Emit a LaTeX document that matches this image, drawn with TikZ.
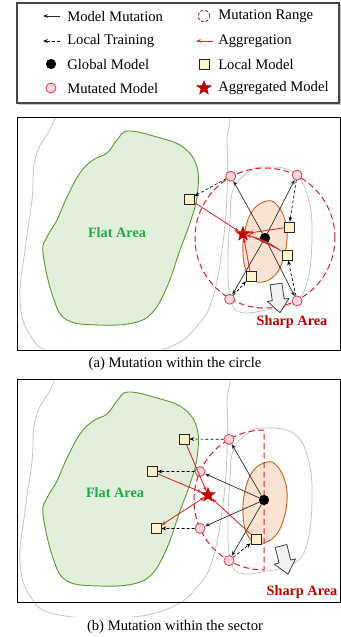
\documentclass[tikz,border=0pt]{standalone}
\usepackage{fontspec}
\setmainfont{Liberation Serif}
\usetikzlibrary{arrows.meta,shapes.geometric,calc}

\definecolor{flatfill}{HTML}{E2EFDA}
\definecolor{flatedge}{HTML}{5E9A3A}
\definecolor{flattext}{HTML}{1DAA4A}
\definecolor{sharpfill}{HTML}{FBE3D3}
\definecolor{sharpedge}{HTML}{C8641E}
\definecolor{sharptext}{HTML}{C00000}
\definecolor{contour}{HTML}{C4C4C4}
\definecolor{rangered}{HTML}{D0202A}
\definecolor{aggred}{HTML}{D42A2A}
\definecolor{starred}{HTML}{C00000}
\definecolor{mutfill}{HTML}{F8D6DC}
\definecolor{mutedge}{HTML}{E0404F}
\definecolor{localfill}{HTML}{FFF2CC}

% the loss landscape: two gray contours, the flat (green) and the sharp (orange) basin
\newcommand\drawterrain{%
  \draw[contour, line width=0.6pt] plot[smooth cycle, tension=0.7] coordinates {
    (72,106) (150,103) (222,109) (227,143) (227,193) (223,243) (213,297)
    (198,325) (170,347) (120,357) (55,353) (30,335) (20,300) (25,250)
    (32,200) (35,160) (48,133)};
  \draw[contour, line width=0.6pt] plot[smooth cycle, tension=0.7] coordinates {
    (263,167) (293,172) (308,197) (312,237) (307,283) (293,303) (267,310)
    (240,312) (230,297) (228,260) (230,220) (233,190) (247,173)};
  \draw[flatedge, fill=flatfill, line width=0.7pt] plot[smooth cycle, tension=0.65] coordinates {
    (128,131) (157,137) (183,147) (197,167) (197,197) (190,223) (180,250)
    (167,287) (152,313) (133,323) (100,325) (67,320) (53,297) (43,253)
    (47,237) (57,220) (67,197) (80,173) (93,160) (107,153) (117,140)};
  \draw[sharpedge, fill=sharpfill, line width=0.7pt] plot[smooth cycle, tension=0.7] coordinates {
    (267,201) (277,205) (285,220) (287,240) (282,263) (272,278) (257,282)
    (247,273) (243,253) (245,230) (253,210)};
}

\begin{document}
\begin{tikzpicture}[x=0.75pt, y=-0.75pt,
  tip/.style={-{Stealth[length=3.6pt,width=2.8pt]}},
  globalm/.style={circle, fill=black, draw=black, minimum size=7.2pt, inner sep=0pt},
  mutm/.style={circle, fill=mutfill, draw=mutedge, line width=0.6pt, minimum size=7.5pt, inner sep=0pt},
  localm/.style={rectangle, fill=localfill, draw=black!85, line width=0.6pt, minimum size=7.5pt, inner sep=0pt},
  aggm/.style={star, star points=5, star point ratio=2.4, fill=starred, draw=starred, minimum size=11pt, inner sep=0pt},
  mutarrow/.style={tip, draw=black!85, line width=0.5pt},
  trainarrow/.style={tip, draw=black, line width=0.5pt, dash pattern=on 2.2pt off 1.6pt},
  aggarrow/.style={tip, draw=aggred, fill=aggred, line width=0.6pt},
  rangeline/.style={draw=rangered, line width=0.75pt, dash pattern=on 4.5pt off 2.6pt},
  panel/.style={draw=black, line width=0.75pt},
  blockarrow/.style={fill=gray!10, draw=black!75, line width=0.6pt, line join=round},
  legendtext/.style={anchor=west, inner sep=0pt, font=\fontsize{11}{13}\selectfont},
  caption/.style={inner sep=0pt, font=\fontsize{11}{13}\selectfont},
  flatlabel/.style={inner sep=0pt, text=flattext, font=\fontsize{10.7}{12}\selectfont\bfseries},
  sharplabel/.style={inner sep=0pt, text=sharptext, font=\fontsize{10.7}{12}\selectfont\bfseries}
]
\useasboundingbox (0,0) rectangle (341,637);

% ---------------- legend ----------------
\fill[gray!45] (18.5,4.5) rectangle (340.5,104.5);
\draw[fill=white, draw=gray!55!black, line width=0.9pt] (17,3) rectangle (339,103);

\coordinate (lgA1) at (60,16);  \coordinate (lgA2) at (43,16);
\draw[mutarrow] (lgA1) -- (lgA2);
\node[legendtext] (lgt1) at (67,16) {Model Mutation};

\coordinate (lgB1) at (60,41);  \coordinate (lgB2) at (43,41);
\draw[trainarrow] (lgB1) -- (lgB2);
\node[legendtext] (lgt2) at (67,41) {Local Training};

\node[globalm] (lgC) at (51,64) {};
\node[legendtext] (lgt3) at (67,64) {Global Model};

\node[mutm] (lgD) at (51,88) {};
\node[legendtext] (lgt4) at (67,88) {Mutated Model};

\node[circle, draw=rangered, line width=0.7pt, dash pattern=on 2.2pt off 1.4pt,
      minimum size=8.6pt, inner sep=0pt] (lgE) at (204,16) {};
\node[legendtext] (lgt5) at (218,16) {Mutation Range};

\coordinate (lgF1) at (213,41); \coordinate (lgF2) at (196,41);
\draw[aggarrow] (lgF1) -- (lgF2);
\node[legendtext] (lgt6) at (218,41) {Aggregation};

\node[localm] (lgG) at (204,64) {};
\node[legendtext] (lgt7) at (218,64) {Local Model};

\node[aggm] (lgH) at (204,88) {};
\node[legendtext] (lgt8) at (218,88) {Aggregated Model};

% ---------------- panel (a): mutation within the circle ----------------
\begin{scope}
  \clip (17,117.5) rectangle (340,350);
  \drawterrain
\end{scope}
\draw[panel] (17,117.5) rectangle (340,350);

\coordinate (ca) at (265,238);
\draw[rangeline] (ca) circle[radius=52.5pt];

\node[globalm] (Ga) at (ca) {};
\node[mutm] (Ma1) at ($(ca)+(119:53pt)$) {};
\node[mutm] (Ma2) at ($(ca)+(63:53pt)$) {};
\node[mutm] (Ma3) at ($(ca)+(240:53pt)$) {};
\node[mutm] (Ma4) at ($(ca)+(297:53pt)$) {};
\node[localm] (La1) at (189,199) {};
\node[localm] (La2) at (289,227) {};
\node[localm] (La3) at (287,255) {};
\node[localm] (La4) at (251,276) {};
\node[aggm] (Sa) at (243,234) {};

\foreach \m in {Ma1,Ma2,Ma3,Ma4} \draw[mutarrow] (Ga) -- (\m);
\draw[trainarrow] (Ma1) -- (La1);
\draw[trainarrow] (Ma2) -- (La2);
\draw[trainarrow] (Ma4) -- (La3);
\draw[trainarrow] (Ma3) -- (La4);
\draw[aggarrow] (La1) -- (Sa);
\draw[aggarrow] (La2) -- (Sa);
\draw[aggarrow] (La3) to[bend right=10] (Sa);
\draw[aggarrow] (La4) -- (Sa);

\draw[blockarrow, shift={(276,284)}, rotate=8]
  (-6,0) -- (6,0) -- (6,16) -- (11,16) -- (0,29) -- (-11,16) -- (-6,16) -- cycle;

\node[flatlabel] (fa) at (117,233) {Flat Area};
\node[sharplabel] (sa) at (292,322) {Sharp Area};
\node[caption] (capa) at (175,364) {(a) Mutation within the circle};

% ---------------- panel (b): mutation within the sector ----------------
\begin{scope}
  \clip (17,379) rectangle (340,616);
  \begin{scope}[shift={(0,261)}]
    \drawterrain
  \end{scope}
\end{scope}
\draw[panel] (17,379) rectangle (340,602);

\coordinate (cb) at (264,500);
\draw[rangeline] ($(cb)+(90:52.5pt)$) arc[start angle=90, end angle=270, radius=52.5pt] -- cycle;

\node[globalm] (Gb) at (cb) {};
\node[mutm] (Mb1) at ($(cb)+(120:52.5pt)$) {};
\node[mutm] (Mb2) at ($(cb)+(156:52.5pt)$) {};
\node[mutm] (Mb3) at ($(cb)+(204:52.5pt)$) {};
\node[mutm] (Mb4) at ($(cb)+(240:52.5pt)$) {};
\node[localm] (Lb1) at (184,439) {};
\node[localm] (Lb2) at (152,471.5) {};
\node[localm] (Lb3) at (156,528.5) {};
\node[localm] (Lb4) at (256,539) {};
\node[aggm] (Sb) at (208,495) {};

\foreach \m in {Mb1,Mb2,Mb3,Mb4} \draw[mutarrow] (Gb) -- (\m);
\draw[trainarrow] (Mb1) -- (Lb1);
\draw[trainarrow] (Mb2) -- (Lb2);
\draw[trainarrow] (Mb3) -- (Lb3);
\draw[trainarrow] (Mb4) -- (Lb4);
\draw[aggarrow] (Lb1) -- (Sb);
\draw[aggarrow] (Lb2) -- (Sb);
\draw[aggarrow, {Stealth[length=3.6pt,width=2.8pt]}-{Stealth[length=3.6pt,width=2.8pt]}] (Lb3) -- (Sb);
\draw[aggarrow] (Lb4) -- (Sb);

\draw[blockarrow, shift={(281,546)}, rotate=14]
  (-6,0) -- (6,0) -- (6,16) -- (11,16) -- (0,29) -- (-11,16) -- (-6,16) -- cycle;

\node[flatlabel] (fb) at (115,493) {Flat Area};
\node[sharplabel] (sb) at (302,592) {Sharp Area};
\node[caption] (capb) at (175,627) {(b) Mutation within the sector};
\end{tikzpicture}
\end{document}
